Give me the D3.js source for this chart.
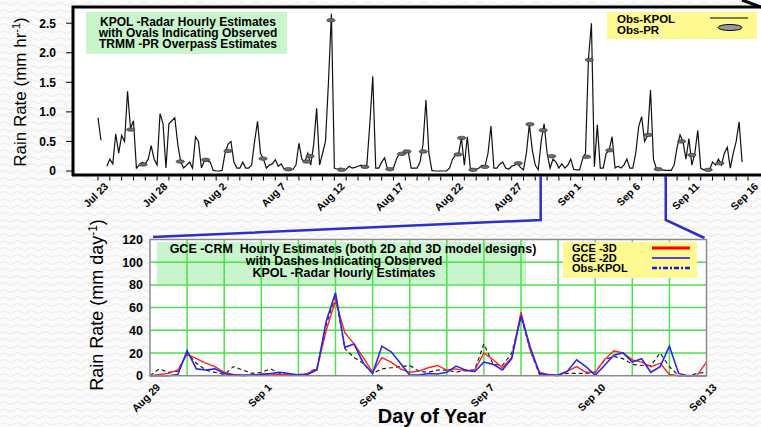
<!DOCTYPE html>
<html>
<head>
<meta charset="utf-8">
<script src="https://cdn.jsdelivr.net/npm/d3@7"></script>
<style>
body{margin:0;background:#fafafa}
svg{display:block;font-family:"Liberation Sans",Arial,sans-serif}
</style>
</head>
<body>
<div id="chart"></div>
<script>
// KPOL radar rain rate (mm/hr), one sample every 6 h from Jul 23 1999 00Z
var kpolRain = [
 0.9, 0.52, null, 0.08, 0.2, 0.12, 0.63, 0.3, 0.6, 0.5, 1.35, 0.72, 0.85, 0.05, 0.1, 0.15, 0.12, 0.2, 0.43, 0.2,
 0.1, 0.97, 0.8, 0.05, 0.8, 0.85, 0.9, 0.45, 0.15, 0.05, 0.1, 0.15, 0.05, 0.58, 0.5, 0.05, 0.17, 0.17, 0.15, 0.01,
 0, 0, 0.01, 0.3, 0.45, 0.5, 0.15, 0.05, 0.05, 0.15, 0.05, 0.05, 0.1, 0.5, 0.84, 0.3, 0.2, 0.05, 0.1, 0.12,
 0.19, 0.08, 0.12, 0.03, 0.03, 0.02, 0.03, 0.1, 0.47, 0.2, 0.15, 0.3, 0.1, 0.45, 1.06, 0.1, 0.3, 0.5, 1.5, 2.66,
 0.05, 0.03, 0.05, 0.02, 0.03, 0.08, 0.05, 0.06, 0.08, 0.1, 0.07, 0.1, 0.8, 1.6, 0.05, 0.05, 0.15, 0.22, 0.03, 0.03,
 0.05, 0.2, 0.3, 0.27, 0.35, 0.33, 0.05, 0.05, 0.05, 0.15, 0.45, 1.2, 0.3, 0.01, 0, 0, 0, 0, 0, 0.05,
 0.2, 0.27, 0.28, 0.56, 0.1, 0.58, 0.05, 0.02, 0.03, 0.05, 0.1, 0.08, 0.3, 0.76, 0.05, 0.05, 0.12, 0.15, 0.05, 0.03,
 0.08, 0.1, 0.13, 0.06, 0.02, 0.3, 0.79, 0.35, 0.1, 0.02, 0.5, 0.8, 0.3, 0.05, 0.2, 0.15, 0.05, 0.12, 0.05, 0.1,
 0.2, 0.03, 0.02, 0.02, 0.2, 0.3, 1.9, 2.5, 0.07, 0.78, 0.05, 0.05, 0.3, 0.35, 0.58, 0.05, 0.08, 0.05, 0.1, 0.2,
 0.05, 0.05, 0.3, 0.75, 0.92, 0.5, 0.6, 1.37, 0.2, 0.04, 0.03, 0.02, 0.01, 0.01, 0.01, 0.1, 0.4, 0.61, 0.5, 0.2,
 0.55, 0.1, 0.3, 0.69, 0.05, 0.02, 0.02, 0.02, 0.15, 0.1, 0.2, 0.1, 0.3, 0.4, 0.05, 0.3, 0.5, 0.83, 0.15
];
// TRMM-PR overpasses: days after Jul 23 00Z and rain rate
var prDays = [2.77, 3.81, 6.96, 9.11, 11.0, 13.96, 16.1, 17.66, 17.94, 19.71, 20.62, 22.59, 24.7, 25.69, 26.14, 27.52,
  30.46, 30.77, 31.73, 32.74, 35.56, 36.55, 37.67, 38.38, 41.34, 41.57, 43.32, 46.56, 47.4, 49.38, 50.25, 51.63, 52.62];
var prRain = [0.70, 0.11, 0.16, 0.19, 0.34, 0.21, 0.03, 0.16, 0.25, 2.55, 0.02, 0.07, 0.03, 0.29, 0.33, 0.33,
  0.28, 0.56, 0.02, 0.07, 0.13, 0.79, 0.69, 0.25, 0.24, 1.88, 0.35, 0.61, 0.03, 0.5, 0.27, 0.02, 0.13];
var topTickLabels = ["Jul 23","Jul 28","Aug 2","Aug 7","Aug 12","Aug 17","Aug 22","Aug 27","Sep 1","Sep 6","Sep 11","Sep 16"];
var topYTicks = [0, 0.5, 1, 1.5, 2, 2.5];
var topYLabels = ["0","0.5","1.0","1.5","2.0","2.5"];

// GCE-CRM (mm/day), every 6 h from Aug 29 00Z to Sep 13 00Z
var gce3d = [0, 1, 2, 5, 19, 15, 11, 8, 3, 1, 0, 0.5, 1.5, 1.5, 1, 1, 0.5, 2, 6, 40,
  66, 38, 28, 16, 3, 16, 12, 6, 3, 4, 7, 9, 5, 6, 4, 5, 20, 14, 7, 16,
  56, 22, 3, 1, 0, 4, 8, 3, 3, 14, 22, 20, 14, 12, 8, 11, 1, 0, 0, 0.5, 12];
var gce2d = [0, 0, 0, 1, 22, 6, 5, 6, 2, 0.5, 0.5, 0.5, 1, 2, 3, 2, 0.5, 1, 5, 48,
  73, 25, 28, 11, 2, 26, 21, 11, 0.5, 0.5, 2, 1.5, 3, 8.5, 5, 3.5, 12, 10, 5, 15,
  53, 25, 2, 0.5, 0.5, 4, 14, 8, 0.5, 9, 18, 20, 12, 15, 3, 8, 26, 2, 0, 0, 0];
var obsKpol = [0, 6, 3, 4, 20, 11, 5, 3, 1, 8, 5, 2, 3, 6, 2, 1, 1, 2, 7, 45,
  70, 24, 16, 11, 2, 6, 7, 8, 9, 4, 3, 5, 5, 3, 5, 5, 28, 10, 9, 20,
  52, 22, 1, 0.5, 1, 2, 2, 2, 3, 14, 17, 15, 10, 9, 9, 20, 8, 0, 0, 2, 3];
var botTickLabels = ["Aug 29","Sep 1","Sep 4","Sep 7","Sep 10","Sep 13"];
var botYTicks = [0, 20, 40, 60, 80, 100, 120];

var HOUR = 3600e3, DAY = 24 * HOUR;
var topStart = Date.UTC(1999, 6, 23), botStart = Date.UTC(1999, 7, 29);
var fmt = d3.utcFormat("%b %-d");

var W = 761, H = 427;
var svg = d3.select("#chart").append("svg").attr("width", W).attr("height", H);

// textured background
var pat = svg.append("defs").append("pattern").attr("id", "bg")
  .attr("width", 14).attr("height", 7).attr("patternUnits", "userSpaceOnUse");
pat.append("rect").attr("width", 14).attr("height", 7).attr("fill", "#fbfbfb");
pat.append("path").attr("d", "M0,4 Q3.5,1 7,4 T14,4").attr("fill", "none")
  .attr("stroke", "#e9e9e9").attr("stroke-width", 1);
svg.append("rect").attr("width", W).attr("height", H).attr("fill", "url(#bg)");

// ---------- top chart ----------
var xTop = d3.scaleUtc().domain([new Date(topStart), new Date(Date.UTC(1999, 8, 16))]).range([98, 748]);
var yTop = d3.scaleLinear().domain([0, 2.5]).range([171, 23.2]);

svg.append("rect").attr("x", 73).attr("y", 7).attr("width", 688).attr("height", 168).attr("fill", "#fff");

var kpolPts = kpolRain.map(function(v, i){ return {t: new Date(topStart + i * 6 * HOUR), v: v}; });
var kpolLine = d3.line().defined(function(d){ return d.v != null; })
  .x(function(d){ return xTop(d.t); }).y(function(d){ return yTop(d.v); });
svg.append("path").datum(kpolPts).attr("d", kpolLine)
  .attr("fill", "none").attr("stroke", "#111").attr("stroke-width", 1.2);

svg.selectAll("ellipse.pr").data(prDays).enter().append("ellipse").attr("class", "pr")
  .attr("cx", function(d){ return xTop(new Date(topStart + d * DAY)); })
  .attr("cy", function(d, i){ return yTop(prRain[i]); })
  .attr("rx", 4.2).attr("ry", 1.7)
  .attr("fill", "#6e6e6e").attr("stroke", "#333").attr("stroke-width", 0.7);

// frame
svg.append("path").attr("d", "M73,176V7H761").attr("fill", "none").attr("stroke", "#000").attr("stroke-width", 3);
svg.append("path").attr("d", "M742,0L761,7").attr("stroke", "#000").attr("stroke-width", 3);
svg.append("line").attr("x1", 72).attr("x2", 761).attr("y1", 175).attr("y2", 175).attr("stroke", "#000").attr("stroke-width", 3);

var gxTop = svg.append("g");
var topDays = xTop.ticks(d3.utcDay.every(1));
gxTop.selectAll("line").data(topDays).enter().append("line")
  .attr("x1", function(d){ return xTop(d); }).attr("x2", function(d){ return xTop(d); })
  .attr("y1", 176.5).attr("y2", 180.5).attr("stroke", "#000").attr("stroke-width", 1);
gxTop.selectAll("text").data(topDays.filter(function(d){ return topTickLabels.indexOf(fmt(d)) >= 0; }))
  .enter().append("text")
  .attr("transform", function(d){ return "translate(" + (xTop(d) + 11) + ",187) rotate(-45)"; })
  .attr("text-anchor", "end").attr("font-size", 10.5).attr("font-weight", "bold")
  .text(function(d){ return fmt(d); });

var gyTop = svg.append("g");
gyTop.selectAll("line").data(topYTicks).enter().append("line")
  .attr("x1", 66).attr("x2", 72).attr("y1", function(d){ return yTop(d); }).attr("y2", function(d){ return yTop(d); })
  .attr("stroke", "#000");
gyTop.selectAll("text").data(topYTicks).enter().append("text")
  .attr("x", 56).attr("y", function(d){ return yTop(d); }).attr("dy", "0.36em")
  .attr("text-anchor", "end").attr("font-size", 12).attr("font-weight", "bold")
  .text(function(d, i){ return topYLabels[i]; });

var tTitle = svg.append("text").attr("transform", "translate(26,92) rotate(-90)")
  .attr("text-anchor", "middle").attr("font-size", 17);
tTitle.append("tspan").text("Rain Rate (mm hr");
tTitle.append("tspan").attr("dy", -6).attr("font-size", 11).text("-1");
tTitle.append("tspan").attr("dy", 6).text(")");

// top annotation box
svg.append("rect").attr("x", 86).attr("y", 12).attr("width", 201).attr("height", 42).attr("fill", "#c9f5cc");
svg.append("text").attr("x", 188).attr("text-anchor", "middle").attr("font-size", 12).attr("font-weight", "bold")
  .selectAll("tspan").data(["KPOL -Radar Hourly Estimates", "with Ovals Indicating Observed", "TRMM -PR Overpass Estimates"])
  .enter().append("tspan").attr("x", 188).attr("y", function(d, i){ return 25.5 + i * 11; }).text(function(d){ return d; });

// top legend
svg.append("rect").attr("x", 607).attr("y", 12).attr("width", 150).attr("height", 27).attr("fill", "#fdf88f");
svg.append("text").attr("x", 617).attr("y", 23).attr("font-size", 11.5).attr("font-weight", "bold").text("Obs-KPOL");
svg.append("text").attr("x", 617).attr("y", 33.5).attr("font-size", 11.5).attr("font-weight", "bold").text("Obs-PR");
svg.append("line").attr("x1", 710).attr("x2", 748).attr("y1", 18).attr("y2", 18).attr("stroke", "#000").attr("stroke-width", 1.2);
svg.append("ellipse").attr("cx", 730).attr("cy", 27.5).attr("rx", 12).attr("ry", 3)
  .attr("fill", "#999").attr("stroke", "#000").attr("stroke-width", 1);

// ---------- bottom chart ----------
var xBot = d3.scaleUtc().domain([new Date(botStart), new Date(Date.UTC(1999, 8, 13))]).range([150, 706.5]);
var yBot = d3.scaleLinear().domain([0, 120]).range([375.7, 239.5]);

// connectors between the two panels
var zoomFrom = new Date(Date.UTC(1999, 7, 29, 11)), zoomTo = new Date(Date.UTC(1999, 8, 9, 1));
svg.append("path").attr("d", "M" + xTop(zoomFrom) + ",176V220L" + (xBot.range()[0] + 3) + ",237")
  .attr("fill", "none").attr("stroke", "#2e2ec8").attr("stroke-width", 2.5);
svg.append("path").attr("d", "M" + xTop(zoomTo) + ",176V220L" + (xBot.range()[1] - 2) + ",238")
  .attr("fill", "none").attr("stroke", "#2e2ec8").attr("stroke-width", 2.5);

svg.append("rect").attr("x", 150).attr("y", 239.5).attr("width", 556.5).attr("height", 136.2).attr("fill", "#fff");

// annotation box under the grid
svg.append("rect").attr("x", 157).attr("y", 242).attr("width", 369).attr("height", 42).attr("fill", "#c9f5cc");

var botDays = xBot.ticks(d3.utcDay.every(1));
var grid = svg.append("g").attr("stroke", "#4de04d").attr("stroke-width", 1.5);
grid.selectAll("line.v").data(botDays.slice(1, -1)).enter().append("line").attr("class", "v")
  .attr("x1", function(d){ return xBot(d); }).attr("x2", function(d){ return xBot(d); })
  .attr("y1", yBot(120)).attr("y2", yBot(0));
grid.selectAll("line.h").data(botYTicks.slice(1, -1)).enter().append("line").attr("class", "h")
  .attr("x1", 150).attr("x2", 706.5).attr("y1", function(d){ return yBot(d); }).attr("y2", function(d){ return yBot(d); });

svg.append("text").attr("text-anchor", "middle").attr("font-size", 12.5).attr("font-weight", "bold")
  .style("white-space", "pre")
  .selectAll("tspan").data(["GCE -CRM  Hourly Estimates (both 2D and 3D model designs)", "with Dashes Indicating Observed", "KPOL -Radar Hourly Estimates"])
  .enter().append("tspan").attr("x", function(d, i){ return i ? 344 : 353; })
  .attr("y", function(d, i){ return 253 + i * 12; }).text(function(d){ return d; });

function botLine(vals){
  return d3.line().x(function(d, i){ return xBot(new Date(botStart + i * 6 * HOUR)); })
    .y(function(d){ return yBot(d); })(vals);
}
svg.append("path").attr("d", botLine(obsKpol)).attr("fill", "none")
  .attr("stroke", "#222").attr("stroke-width", 1.2).attr("stroke-dasharray", "4,3");
svg.append("path").attr("d", botLine(gce3d)).attr("fill", "none")
  .attr("stroke", "#f22").attr("stroke-width", 1.4);
svg.append("path").attr("d", botLine(gce2d)).attr("fill", "none")
  .attr("stroke", "#2828f0").attr("stroke-width", 1.6);

svg.append("rect").attr("x", 150).attr("y", 239.5).attr("width", 556.5).attr("height", 136.2)
  .attr("fill", "none").attr("stroke", "#8a8a8a").attr("stroke-width", 1.5);

// bottom legend
svg.append("rect").attr("x", 563).attr("y", 242).attr("width", 134).attr("height", 36).attr("fill", "#fdf88f");
var legItems = [["GCE -3D", "#f00", 3, null], ["GCE -2D", "#1515f0", 1.3, null], ["Obs-KPOL", "#1515f0", 2.5, "5,2,2,2"]];
legItems.forEach(function(it, i){
  svg.append("text").attr("x", 572).attr("y", 252 + i * 10).attr("font-size", 11).attr("font-weight", "bold").text(it[0]);
  svg.append("line").attr("x1", 652).attr("x2", 690).attr("y1", 248 + i * 10).attr("y2", 248 + i * 10)
    .attr("stroke", it[1]).attr("stroke-width", it[2]).attr("stroke-dasharray", it[3]);
});

var gxBot = svg.append("g");
gxBot.selectAll("text").data(botDays.filter(function(d){ return botTickLabels.indexOf(fmt(d)) >= 0; }))
  .enter().append("text")
  .attr("transform", function(d){ return "translate(" + (xBot(d) + 11) + ",388) rotate(-45)"; })
  .attr("text-anchor", "end").attr("font-size", 10.5).attr("font-weight", "bold")
  .text(function(d){ return fmt(d); });

svg.append("g").selectAll("text").data(botYTicks).enter().append("text")
  .attr("x", 143).attr("y", function(d){ return yBot(d); }).attr("dy", "0.36em")
  .attr("text-anchor", "end").attr("font-size", 12.5).attr("font-weight", "bold")
  .text(function(d){ return d; });

var bTitle = svg.append("text").attr("transform", "translate(103,305) rotate(-90)")
  .attr("text-anchor", "middle").attr("font-size", 18);
bTitle.append("tspan").text("Rain Rate (mm day");
bTitle.append("tspan").attr("dy", -6).attr("font-size", 12).text("-1");
bTitle.append("tspan").attr("dy", 6).text(")");

svg.append("text").attr("x", 432).attr("y", 423).attr("text-anchor", "middle")
  .attr("font-size", 20).attr("font-weight", "bold").text("Day of Year");
</script>
</body>
</html>
